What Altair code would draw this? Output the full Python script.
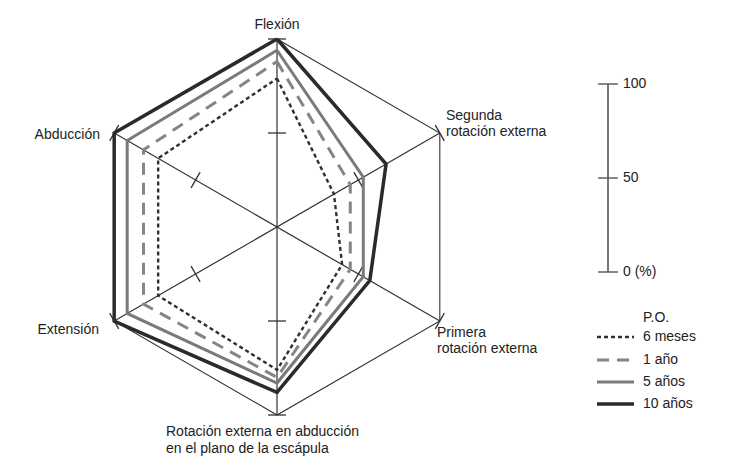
import altair as alt
import pandas as pd
import numpy as np

# ---------------- data ----------------
axis_names = ["Flexión", "Segunda rotación externa", "Primera rotación externa",
              "Rotación externa en abducción en el plano de la escápula",
              "Extensión", "Abducción"]
axis_angles = [90, 30, -30, -90, 210, 150]
series_names = ["6 meses", "1 año", "5 años", "10 años"]
vals_6m = [79, 35, 40, 76, 73, 73]
vals_1a = [88, 45, 45, 80, 82, 82]
vals_5a = [94, 53, 53, 83, 92, 92]
vals_10a = [100, 67, 57, 88, 100, 100]
scale_ticks = [0, 50, 100]
scale_tick_labels = ["0 (%)", "50", "100"]
legend_title = "P.O."

# ---------------- layout ----------------
W, H = 716, 459
CX, CY = 277, 227      # page pixel of centre
PX = 1.88              # pixels per unit (100 % = 188 px)
ORX, ORY = 8, 8


def ux(px):
    return (px - CX) / PX


def uy(py):
    return (CY - py) / PX


xmin = ux(ORX)
xmax = ux(ORX + W)
ymin = uy(ORY + H)
ymax = uy(ORY)
xs = alt.Scale(domain=[xmin, xmax], nice=False, zero=False)
ys = alt.Scale(domain=[ymin, ymax], nice=False, zero=False)

FONT = "Liberation Sans"
FS = 14
TXT = "#222222"
AX = "#333333"

styles = {
    "6 meses": dict(color="#303030", strokeWidth=2.4, strokeDash=[4, 3]),
    "1 año": dict(color="#858585", strokeWidth=3, strokeDash=[12, 8]),
    "5 años": dict(color="#7a7a7a", strokeWidth=3),
    "10 años": dict(color="#2a2a2a", strokeWidth=3.5),
}
all_vals = [vals_6m, vals_1a, vals_5a, vals_10a]

rad = np.radians(axis_angles)


def X(field="x"):
    return alt.X(f"{field}:Q", scale=xs, axis=None)


def Y(field="y"):
    return alt.Y(f"{field}:Q", scale=ys, axis=None)


layers = []

# hexagon frame
hx = [100 * np.cos(a) for a in rad] + [100 * np.cos(rad[0])]
hy = [100 * np.sin(a) for a in rad] + [100 * np.sin(rad[0])]
frame = pd.DataFrame({"x": hx, "y": hy, "o": range(len(hx))})
layers.append(alt.Chart(frame).mark_line(color=AX, strokeWidth=1.1).encode(
    x=X(), y=Y(), order="o:Q"))

# spokes
sp = pd.DataFrame({
    "x": [100 * np.cos(rad[i]) for i in range(3)],
    "y": [100 * np.sin(rad[i]) for i in range(3)],
    "x2": [100 * np.cos(rad[i + 3]) for i in range(3)],
    "y2": [100 * np.sin(rad[i + 3]) for i in range(3)],
})
layers.append(alt.Chart(sp).mark_rule(color=AX, strokeWidth=1.2).encode(
    x=X(), y=Y(), x2="x2:Q", y2="y2:Q"))

# ticks at 50 and 100
T = 4.8
rows = []
for a in rad:
    for r in (50, 100):
        cx, cy = r * np.cos(a), r * np.sin(a)
        dx, dy = -np.sin(a) * T, np.cos(a) * T
        rows.append(dict(x=cx - dx, y=cy - dy, x2=cx + dx, y2=cy + dy))
layers.append(alt.Chart(pd.DataFrame(rows)).mark_rule(color=AX, strokeWidth=1.3).encode(
    x=X(), y=Y(), x2="x2:Q", y2="y2:Q"))

# series polygons
for name, vals in zip(series_names, all_vals):
    px_ = [v * np.cos(a) for v, a in zip(vals, rad)]
    py_ = [v * np.sin(a) for v, a in zip(vals, rad)]
    px_.append(px_[0])
    py_.append(py_[0])
    df = pd.DataFrame({"x": px_, "y": py_, "o": range(len(px_))})
    st = styles[name]
    kw = dict(color=st["color"], strokeWidth=st["strokeWidth"], strokeJoin="miter")
    if "strokeDash" in st:
        kw["strokeDash"] = st["strokeDash"]
    layers.append(alt.Chart(df).mark_line(**kw).encode(x=X(), y=Y(), order="o:Q"))

# axis labels
label_pos = [
    ("Flexión", 277, 25, "center"),
    ("Segunda", 446, 116, "left"),
    ("rotación externa", 446, 132, "left"),
    ("Primera", 437, 333, "left"),
    ("rotación externa", 437, 349, "left"),
    ("Rotación externa en abducción", 166, 432, "left"),
    ("en el plano de la escápula", 166, 449, "left"),
    ("Extensión", 99, 330, "right"),
    ("Abducción", 100, 135, "right"),
]
for al in ("left", "center", "right"):
    sub = [r for r in label_pos if r[3] == al]
    df = pd.DataFrame({"t": [r[0] for r in sub], "x": [ux(r[1]) for r in sub],
                       "y": [uy(r[2]) for r in sub]})
    layers.append(alt.Chart(df).mark_text(align=al, baseline="middle", font=FONT,
                                          fontSize=FS, color=TXT).encode(
        x=X(), y=Y(), text="t:N"))

# scale bar
SBX = ux(608)
SB0 = uy(272)
bar = pd.DataFrame({"x": [SBX], "y": [SB0], "y2": [SB0 + 100]})
layers.append(alt.Chart(bar).mark_rule(color="#555555", strokeWidth=1.6).encode(
    x=X(), y=Y(), y2="y2:Q"))
sbt = pd.DataFrame({"x": [SBX - 5.3] * 3, "x2": [SBX + 5.3] * 3,
                    "y": [SB0 + v for v in scale_ticks]})
layers.append(alt.Chart(sbt).mark_rule(color="#555555", strokeWidth=1.4).encode(
    x=X(), x2="x2:Q", y=Y()))
sbl = pd.DataFrame({"t": scale_tick_labels, "x": [ux(623)] * 3,
                    "y": [SB0 + v for v in scale_ticks]})
layers.append(alt.Chart(sbl).mark_text(align="left", baseline="middle", font=FONT,
                                       fontSize=FS, color=TXT).encode(
    x=X(), y=Y(), text="t:N"))

# legend
leg_y = [337, 360, 382, 404]
lt = pd.DataFrame({"t": [legend_title] + series_names,
                   "x": [ux(643)] * 5,
                   "y": [uy(318)] + [uy(v) for v in leg_y]})
layers.append(alt.Chart(lt).mark_text(align="left", baseline="middle", font=FONT,
                                      fontSize=FS, color=TXT).encode(
    x=X(), y=Y(), text="t:N"))
for name, py in zip(series_names, leg_y):
    st = styles[name]
    kw = dict(color=st["color"], strokeWidth=st["strokeWidth"])
    if "strokeDash" in st:
        kw["strokeDash"] = st["strokeDash"]
    df = pd.DataFrame({"x": [ux(597)], "x2": [ux(634)], "y": [uy(py)]})
    layers.append(alt.Chart(df).mark_rule(**kw).encode(x=X(), x2="x2:Q", y=Y()))

chart = alt.layer(*layers).properties(
    width=W, height=H, autosize=alt.AutoSizeParams(type="none"), padding=0,
    background="white",
).configure_view(stroke=None)

chart.save("out.html", embed_options={"renderer": "svg", "actions": False})
